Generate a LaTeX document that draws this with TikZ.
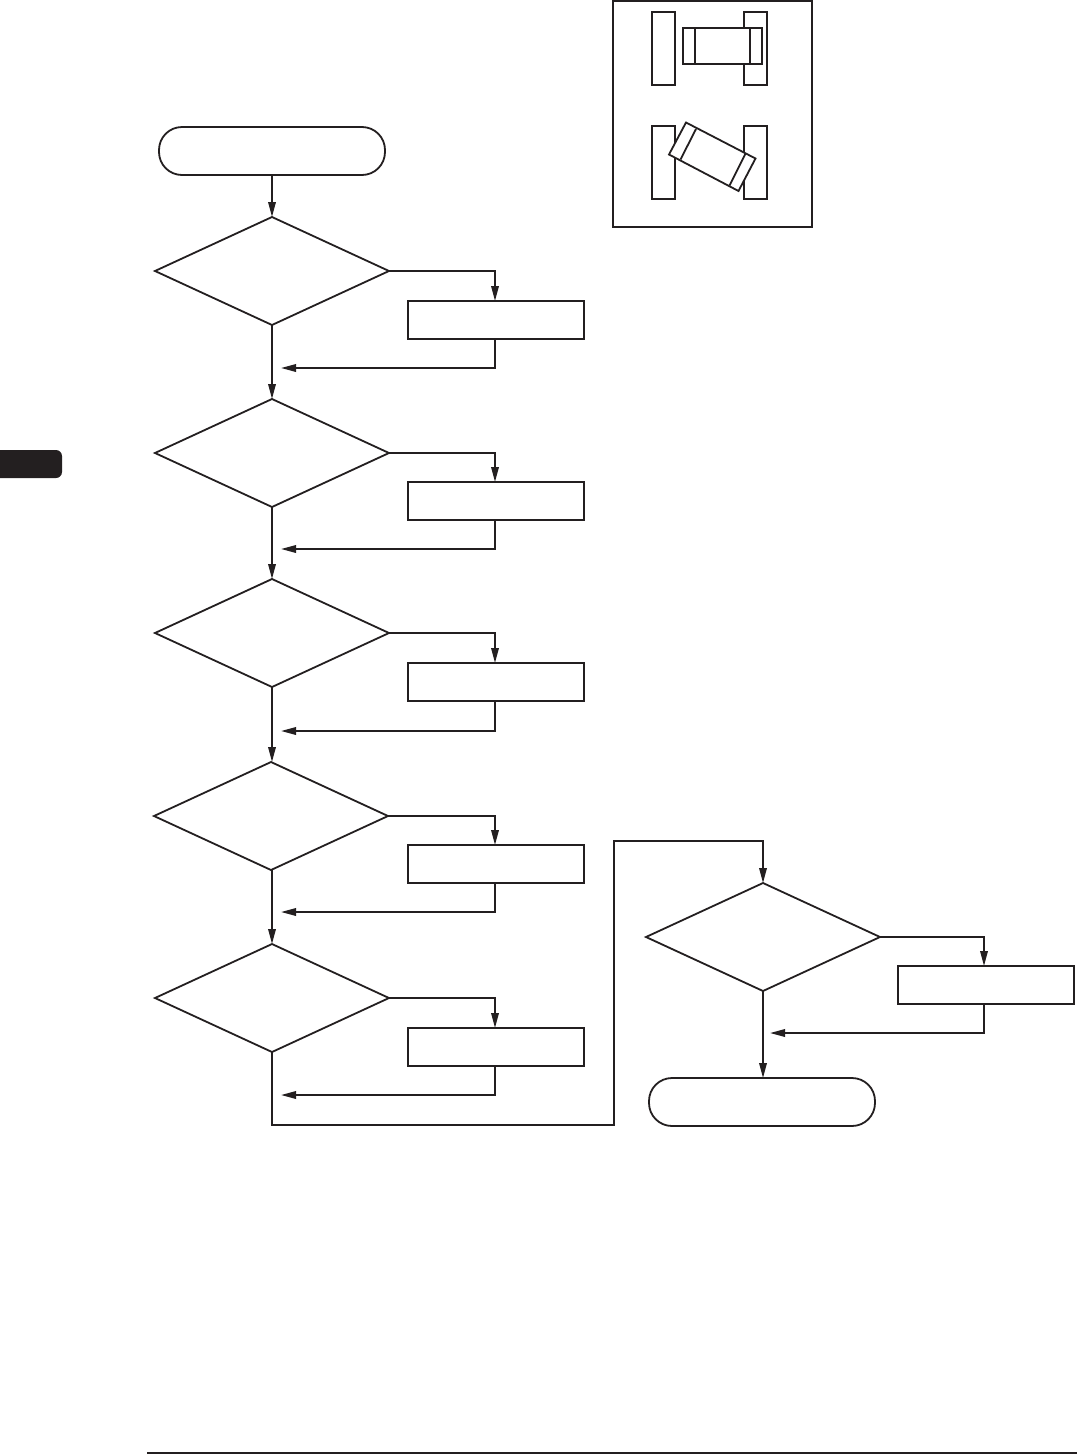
\documentclass[tikz,border=0pt]{standalone}
\usepackage{xcolor}
\usetikzlibrary{arrows.meta,shapes.geometric}
\definecolor{inkline}{HTML}{231F20}
\tikzset{
  decisionbox/.style={draw=inkline,shape=diamond,minimum width=234pt,minimum height=108pt,inner sep=0pt,outer sep=0pt},
  actionbox/.style={draw=inkline,minimum width=176pt,minimum height=38pt,inner sep=0pt,outer sep=0pt},
  terminalbox/.style={draw=inkline,rounded corners=23pt,minimum width=226pt,minimum height=48pt,inner sep=0pt,outer sep=0pt},
  flowline/.style={draw=inkline,-{Triangle[length=15pt,width=7.5pt]}},
  plainline/.style={draw=inkline},
  padbox/.style={draw=inkline,fill=white}
}

\begin{document}
\begin{tikzpicture}[x=1pt,y=-1pt,line width=1.8pt]
  \useasboundingbox (0,0) rectangle (1077,1454);
  \fill[inkline] (0,450) [rounded corners=6pt] -- (62,450) -- (62,478) [sharp corners] -- (0,478) -- cycle;
  \draw[plainline,line width=2pt] (147,1453) -- (1077,1453);
  \draw[plainline] (613,1) rectangle (812,227);
  \draw[padbox] (652,12) rectangle (675,85);
  \draw[padbox] (744,12) rectangle (767,85);
  \draw[padbox] (683,28) rectangle (762,64);
  \draw[plainline] (695,28) -- (695,64);
  \draw[plainline] (750,28) -- (750,64);
  \draw[padbox] (652,126) rectangle (675,199);
  \draw[padbox] (744,126) rectangle (767,199);
  \draw[padbox] (686,122.5) -- (755.5,158.5) -- (738.5,191) -- (669,154.5) -- cycle;
  \draw[plainline] (696,129) -- (680.5,159.5);
  \draw[plainline] (745.5,153.5) -- (729.5,185.5);

  \node[terminalbox] (start) at (272,151) {};
  \node[decisionbox] (check1) at (272,271) {};
  \node[actionbox] (fix1) at (496,320) {};
  \coordinate (back1) at (281,368);
  \node[decisionbox] (check2) at (272,453) {};
  \node[actionbox] (fix2) at (496,501) {};
  \coordinate (back2) at (281,549);
  \node[decisionbox] (check3) at (272,633) {};
  \node[actionbox] (fix3) at (496,682) {};
  \coordinate (back3) at (281,731);
  \node[decisionbox] (check4) at (271,816) {};
  \node[actionbox] (fix4) at (496,864) {};
  \coordinate (back4) at (281,912);
  \node[decisionbox] (check5) at (272,998) {};
  \node[actionbox] (fix5) at (496,1047) {};
  \coordinate (back5) at (281,1095);
  \coordinate (jog1) at (272,1125);
  \coordinate (jog2) at (614,1125);
  \coordinate (jog3) at (614,841);
  \node[decisionbox] (check6) at (763,937) {};
  \node[actionbox] (fix6) at (986,985) {};
  \coordinate (back6) at (770,1033);
  \node[terminalbox] (finish) at (762,1102) {};

  \draw[flowline] (start) -- (check1.north);
  \draw[flowline] (check1.east) -| ([xshift=-1pt]fix1.north);
  \draw[flowline] ([xshift=-1pt]fix1.south) |- (back1);
  \draw[flowline] (check1.south) -- (check2.north);
  \draw[flowline] (check2.east) -| ([xshift=-1pt]fix2.north);
  \draw[flowline] ([xshift=-1pt]fix2.south) |- (back2);
  \draw[flowline] (check2.south) -- (check3.north);
  \draw[flowline] (check3.east) -| ([xshift=-1pt]fix3.north);
  \draw[flowline] ([xshift=-1pt]fix3.south) |- (back3);
  \draw[flowline] (check3.south) -- (check3.south |- check4.north);
  \draw[flowline] (check4.east) -| ([xshift=-1pt]fix4.north);
  \draw[flowline] ([xshift=-1pt]fix4.south) |- (back4);
  \draw[flowline] (check5.north |- check4.south) -- (check5.north);
  \draw[flowline] (check5.east) -| ([xshift=-1pt]fix5.north);
  \draw[flowline] ([xshift=-1pt]fix5.south) |- (back5);
  \draw[flowline] (check5.south) -- (jog1) -- (jog2) -- (jog3) -| (check6.north);
  \draw[flowline] (check6.east) -| ([xshift=-2pt]fix6.north);
  \draw[flowline] ([xshift=-2pt]fix6.south) |- (back6);
  \draw[flowline] (check6.south) -- (check6.south |- finish.north);
\end{tikzpicture}
\end{document}
